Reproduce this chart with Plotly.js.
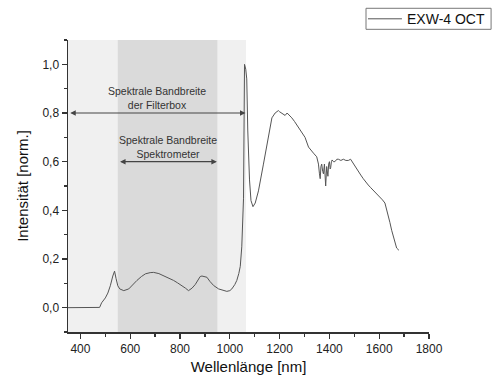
<!DOCTYPE html>
<html>
<head>
<meta charset="utf-8">
<script src="https://cdn.plot.ly/plotly-3.0.1.min.js"></script>
<style>html,body{margin:0;padding:0;background:#fff;}#chart{width:492px;height:381px;}</style>
</head>
<body>
<div id="chart"></div>
<script>
// Wavelength [nm]
const wavelength = [350,400,450,477,485,500,510,520,530,537,543,550,558,574,594,610,627,645,661,680,694,715,734,755,774,790,808,822,834,848,861,872,881,888,898,908,920,935,955,970,988,1000,1008,1020,1028,1036,1042,1048,1052,1055,1057,1059,1064,1068,1072,1076,1079,1085,1093,1102,1115,1135,1155,1169,1182,1195,1200,1209,1215,1222,1230,1235,1249,1260,1269,1280,1289,1302,1316,1326,1336,1349,1356,1360,1363,1366,1369,1373,1376,1380,1383,1385,1389,1392,1394,1397,1400,1403,1405,1408,1411,1416,1422,1430,1436,1446,1456,1466,1476,1485,1496,1506,1516,1526,1536,1546,1556,1566,1576,1590,1603,1613,1623,1630,1636,1643,1650,1657,1663,1670,1679];
// Normalised intensity
const intensity = [0,0,0,0.001,0.02,0.04,0.06,0.09,0.13,0.15,0.12,0.09,0.077,0.07,0.077,0.095,0.112,0.128,0.139,0.144,0.145,0.14,0.132,0.122,0.112,0.102,0.091,0.08,0.07,0.08,0.095,0.115,0.128,0.13,0.127,0.125,0.108,0.091,0.077,0.072,0.067,0.07,0.077,0.095,0.112,0.14,0.17,0.25,0.35,0.45,0.73,1.0,0.98,0.94,0.73,0.6,0.525,0.44,0.415,0.43,0.48,0.59,0.70,0.78,0.80,0.81,0.805,0.80,0.795,0.79,0.80,0.795,0.78,0.765,0.75,0.735,0.72,0.70,0.66,0.645,0.635,0.62,0.59,0.55,0.53,0.58,0.59,0.56,0.55,0.59,0.54,0.50,0.58,0.56,0.54,0.59,0.60,0.57,0.575,0.60,0.607,0.60,0.60,0.61,0.61,0.605,0.61,0.605,0.605,0.61,0.594,0.575,0.56,0.545,0.53,0.515,0.504,0.493,0.483,0.47,0.456,0.443,0.43,0.405,0.38,0.35,0.318,0.29,0.263,0.245,0.236];

const seriesName = 'EXW-4 OCT';
// Bands [start, end] in nm
const filterBand = [350, 1065];
const spectroBand = [550, 950];
const filterLabel = 'Spektrale Bandbreite<br>der Filterbox';
const spectroLabel = 'Spektrale Bandbreite<br>Spektrometer';
const filterArrowY = 0.8;
const spectroArrowY = 0.6;

const axisColor = '#333';
const lineColor = '#555';
const font = {family: 'Liberation Sans, Arial, sans-serif', color: '#222'};

const trace = {
  x: wavelength, y: intensity, type: 'scatter', mode: 'lines',
  name: seriesName, line: {color: lineColor, width: 1}, showlegend: false
};

function arrow(band, y) {
  return {
    x: band[1] - 2, y: y, ax: band[0] + 3, ay: y, xref: 'x', yref: 'y', axref: 'x', ayref: 'y',
    showarrow: true, arrowside: 'end+start', arrowhead: 2, arrowsize: 1, arrowwidth: 1.1,
    arrowcolor: '#444', text: ''
  };
}
function label(band, y, txt) {
  return {
    x: (band[0] + band[1]) / 2, y: y, xref: 'x', yref: 'y', showarrow: false,
    text: txt, yanchor: 'bottom', yshift: 0,
    font: {family: font.family, size: 10.5, color: '#333'}
  };
}

// Legend box (drawn in paper coordinates, outside the plot area)
const legendShapes = [
  {type: 'rect', xref: 'paper', yref: 'paper', x0: 0.8255, x1: 1.172, y0: 1.0366, y1: 1.1086,
   fillcolor: '#fff', line: {color: '#777', width: 1}},
  {type: 'line', xref: 'paper', yref: 'paper', x0: 0.831, x1: 0.925, y0: 1.0726, y1: 1.0726,
   line: {color: lineColor, width: 1}}
];
const legendText = {
  xref: 'paper', yref: 'paper', x: 0.933, y: 1.0726, xanchor: 'left', yanchor: 'middle',
  showarrow: false, text: seriesName, font: {family: font.family, size: 14, color: '#111'}
};

const layout = {
  width: 492, height: 381,
  margin: {l: 68, r: 63, t: 40, b: 49, autoexpand: false},
  paper_bgcolor: '#fff', plot_bgcolor: '#fff',
  separators: ',.',
  font: font,
  showlegend: false,
  xaxis: {
    range: [350, 1800], dtick: 200, tick0: 0, ticks: 'outside', ticklen: 5, tickwidth: 1.3,
    tickcolor: axisColor, showline: true, linecolor: axisColor, linewidth: 1.5,
    showgrid: false, zeroline: false, automargin: false,
    minor: {dtick: 100, ticks: 'outside', ticklen: 3, tickcolor: axisColor, showgrid: false},
    tickfont: {family: font.family, size: 12, color: '#222'},
    title: {text: 'Wellenlänge [nm]', font: {family: font.family, size: 15, color: '#111'}, standoff: 6}
  },
  yaxis: {
    range: [-0.1, 1.1], dtick: 0.2, tick0: 0, tickformat: '.1f', ticks: 'outside', ticklen: 5, tickwidth: 1.3,
    tickcolor: axisColor, showline: true, linecolor: axisColor, linewidth: 1.5,
    showgrid: false, zeroline: false, automargin: false,
    minor: {dtick: 0.1, ticks: 'outside', ticklen: 3, tickcolor: axisColor, showgrid: false},
    tickfont: {family: font.family, size: 12, color: '#222'},
    title: {text: 'Intensität [norm.]', font: {family: font.family, size: 15, color: '#111'}, standoff: 10}
  },
  shapes: [
    {type: 'rect', xref: 'x', yref: 'paper', x0: filterBand[0], x1: filterBand[1], y0: 0, y1: 1,
     fillcolor: '#f0f0f0', line: {width: 0}, layer: 'below'},
    {type: 'rect', xref: 'x', yref: 'paper', x0: spectroBand[0], x1: spectroBand[1], y0: 0, y1: 1,
     fillcolor: '#dadada', line: {width: 0}, layer: 'below'}
  ].concat(legendShapes),
  annotations: [
    arrow(filterBand, filterArrowY), label(filterBand, filterArrowY, filterLabel),
    arrow(spectroBand, spectroArrowY), label(spectroBand, spectroArrowY, spectroLabel),
    legendText
  ]
};

Plotly.newPlot('chart', [trace], layout, {displayModeBar: false, staticPlot: true});
</script>
</body>
</html>
